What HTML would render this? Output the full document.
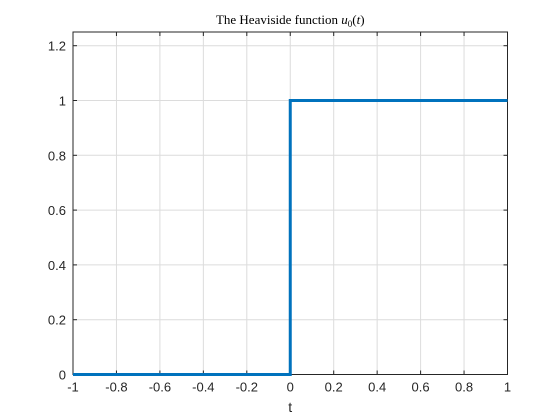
<!DOCTYPE html>
<html><head><meta charset="utf-8"><style>
body{margin:0;background:#fff;}
svg{display:block;font-family:"Liberation Sans",sans-serif;}
</style></head><body>
<svg id="chart" width="560" height="420"></svg>
<script>
const xTicks=[-1,-0.8,-0.6,-0.4,-0.2,0,0.2,0.4,0.6,0.8,1];
const xTickLabels=["-1","-0.8","-0.6","-0.4","-0.2","0","0.2","0.4","0.6","0.8","1"];
const yTicks=[0,0.2,0.4,0.6,0.8,1,1.2];
const yTickLabels=["0","0.2","0.4","0.6","0.8","1","1.2"];
const seriesT=[-1,0,0,1];
const seriesU=[0,0,1,1];
const L=73,R=507.5,T=32,B=374.5;
const xMin=-1,xMax=1,yMin=0,yMax=1.25;
const sx=v=>L+(v-xMin)/(xMax-xMin)*(R-L);
const sy=v=>B-(v-yMin)/(yMax-yMin)*(B-T);
const NS="http://www.w3.org/2000/svg";
const svg=document.getElementById('chart');
function mk(tag,attrs,parent){const e=document.createElementNS(NS,tag);for(const k in attrs)e.setAttribute(k,attrs[k]);(parent||svg).appendChild(e);return e;}
const grid=mk('g',{});


xTicks.forEach(v=>{mk('line',{x1:sx(v),x2:sx(v),y1:T,y2:B,stroke:'#dcdcdc','stroke-width':1},grid);});
yTicks.forEach(v=>{mk('line',{x1:L,x2:R,y1:sy(v),y2:sy(v),stroke:'#dcdcdc','stroke-width':1},grid);});
const ax=mk('rect',{x:L,y:T,width:R-L,height:B-T,fill:'none',stroke:'#262626','stroke-width':1});


xTicks.forEach((v,i)=>{
 mk('line',{x1:sx(v),x2:sx(v),y1:B,y2:B-4,stroke:'#262626'});
 mk('line',{x1:sx(v),x2:sx(v),y1:T,y2:T+4,stroke:'#262626'});
 const t=mk('text',{x:sx(v),y:B+17,'text-anchor':'middle','font-size':13,fill:'#262626'});
 t.textContent=xTickLabels[i];
 
 
});
yTicks.forEach((v,i)=>{
 mk('line',{x1:L,x2:L+4,y1:sy(v),y2:sy(v),stroke:'#262626'});
 mk('line',{x1:R,x2:R-4,y1:sy(v),y2:sy(v),stroke:'#262626'});
 const t=mk('text',{x:L-7,y:sy(v)+5,'text-anchor':'end','font-size':13,fill:'#262626'});
 t.textContent=yTickLabels[i];
 
 
});
const pts=seriesT.map((t,i)=>sx(t)+','+sy(seriesU[i])).join(' ');
const line=mk('polyline',{points:pts,fill:'none',stroke:'#0072BD','stroke-width':3});


const xl=mk('text',{x:(L+R)/2,y:412,'text-anchor':'middle','font-size':14,fill:'#262626'});
xl.textContent='t';


const ti=mk('text',{x:(L+R)/2,y:24,'text-anchor':'middle','font-size':13,fill:'#000','font-family':'Liberation Serif, serif'});
ti.innerHTML='The Heaviside function <tspan font-style="italic">u</tspan><tspan font-size="9" dy="3">0</tspan><tspan dy="-3">(</tspan><tspan font-style="italic">t</tspan>)';


</script>
</body></html>
